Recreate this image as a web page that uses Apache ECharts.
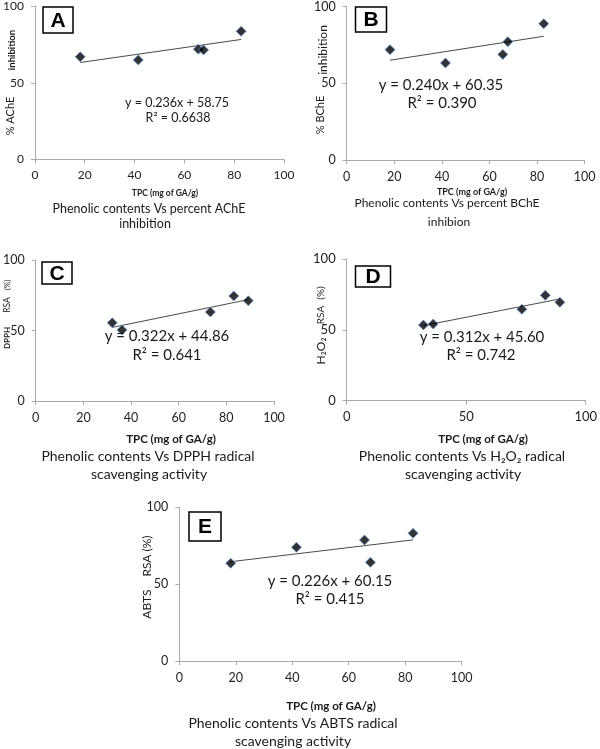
<!DOCTYPE html>
<html>
<head>
<meta charset="utf-8">
<script src="https://cdn.jsdelivr.net/npm/echarts@6/dist/echarts.min.js"></script>
<style>html,body{margin:0;padding:0;background:#fff}#c{width:600px;height:749px}</style>
</head>
<body>
<div id="c"></div>
<script>
// ---- data ----
var tpcA = [18.2, 41.5, 65.6, 67.7, 82.8];       // TPC (mg of GA/g), panels A, B, E
var tpcC = [32.1, 36.2, 73.3, 83.1, 89.2];       // TPC (mg of GA/g), panels C, D
var acheInhibition = [66.9, 64.9, 71.9, 71.4, 83.5];
var bcheInhibition = [71.9, 63.2, 68.8, 77.1, 88.8];
var dpphRSA = [55.5, 50.4, 63.1, 74.5, 71.1];
var h2o2RSA = [53.4, 54.1, 64.5, 74.4, 69.4];
var abtsRSA = [63.6, 74.0, 78.7, 64.2, 83.1];
// trendline end values (at first and last TPC)
var trendA = [63.2, 78.2];
var trendB = [65.0, 80.6];
var trendC = [52.2, 71.9];
var trendD = [53.0, 71.8];
var trendE = [64.6, 78.8];
var xTicksAB = [0, 20, 40, 60, 80, 100];
var xTicksD = [0, 50, 100];
var yTicks = [0, 50, 100];
var panelLetters = ['A', 'B', 'C', 'D', 'E'];
var equations = ['y = 0.236x + 58.75', 'y = 0.240x + 60.35', 'y = 0.322x + 44.86', 'y = 0.312x + 45.60', 'y = 0.226x + 60.15'];
var rSquared = ['R² = 0.6638', 'R² = 0.390', 'R² = 0.641', 'R² = 0.742', 'R² = 0.415'];
var xTitle = 'TPC (mg of GA/g)';

var FONT = 'Lato, "Open Sans", sans-serif';
var chart = echarts.init(document.getElementById('c'), null, {renderer: 'canvas'});

var panels = [
  {x: tpcA, y: acheInhibition, t: trendA, grid: {left: 32, top: 5, width: 252, height: 154.5}, xint: 20, lab: 12},
  {x: tpcA, y: bcheInhibition, t: trendB, grid: {left: 346.7, top: 6, width: 238, height: 154}, xint: 20, lab: 12.5},
  {x: tpcC, y: dpphRSA, t: trendC, grid: {left: 32.3, top: 260, width: 241.7, height: 141}, xint: 20, lab: 12.5},
  {x: tpcC, y: h2o2RSA, t: trendD, grid: {left: 346.7, top: 259, width: 242.7, height: 141.7}, xint: 50, lab: 13},
  {x: tpcA, y: abtsRSA, t: trendE, grid: {left: 179.3, top: 507.3, width: 282.3, height: 153.7}, xint: 20, lab: 12.5}
];

var axisLine = {show: true, lineStyle: {color: '#a9a9a9', width: 1}};
var grids = [], xAxes = [], yAxes = [], series = [];
panels.forEach(function (p, i) {
  grids.push(Object.assign({containLabel: false}, p.grid));
  xAxes.push({
    type: 'value', gridIndex: i, min: 0, max: 100, interval: p.xint,
    axisLine: axisLine, axisTick: {show: true, length: 4, lineStyle: {color: '#a9a9a9'}},
    splitLine: {show: false},
    axisLabel: {color: '#1e1e1e', fontSize: p.lab, fontFamily: FONT, margin: 10}
  });
  yAxes.push({
    type: 'value', gridIndex: i, min: 0, max: 100, interval: 50,
    axisLine: axisLine, axisTick: {show: true, length: 4, lineStyle: {color: '#a9a9a9'}},
    splitLine: {show: false},
    axisLabel: {color: '#1e1e1e', fontSize: p.lab, fontFamily: FONT, margin: 11}
  });
  var pts = p.x.map(function (v, k) { return [v, p.y[k]]; });
  var xs = p.x.slice().sort(function (a, b) { return a - b; });
  series.push({
    type: 'line', xAxisIndex: i, yAxisIndex: i, symbol: 'none', silent: true, z: 1,
    lineStyle: {color: '#4a4a4a', width: 1},
    data: [[xs[0], p.t[0]], [xs[xs.length - 1], p.t[1]]]
  });
  series.push({
    type: 'scatter', xAxisIndex: i, yAxisIndex: i, symbol: 'diamond', symbolSize: [10, 10], z: 3,
    itemStyle: {color: '#000', borderColor: '#5d95d9', borderWidth: 0.9},
    data: pts
  });
});

function txt(x, y, s, size, opt) {
  return {
    type: 'text', x: x, y: y, rotation: opt && opt.rot ? Math.PI / 2 : 0, z: 10,
    style: Object.assign({text: s, fill: '#1a1a1a', font: (opt && opt.bold ? 'bold ' : '') + size + 'px ' + FONT,
      textAlign: 'center', textVerticalAlign: 'middle', align: 'center', verticalAlign: 'middle'}, (opt && opt.style) || {})
  };
}
function box(x, y, w, h, letter, size) {
  return {
    type: 'group', x: x, y: y, z: 10, children: [
      {type: 'rect', shape: {x: 0, y: 0, width: w, height: h}, style: {fill: '#fff', stroke: '#000', lineWidth: 1.5}},
      {type: 'text', x: w / 2, y: h / 2 + 1, style: {text: letter, font: 'bold ' + size + 'px "Liberation Sans", Arial, sans-serif', fill: '#000', align: 'center', verticalAlign: 'middle'}}
    ]
  };
}

var graphics = [
  box(43, 7, 30, 26, panelLetters[0], 21),
  box(355.5, 7, 31, 25, panelLetters[1], 21),
  box(42, 262, 30, 22, panelLetters[2], 21),
  box(355.5, 266, 35, 21, panelLetters[3], 21),
  box(189, 512, 32, 29, panelLetters[4], 21),
  // equations
  txt(177, 103, equations[0], 12.5), txt(178, 118, rSquared[0], 12.5),
  txt(441, 85, equations[1], 15), txt(442, 103, rSquared[1], 15),
  txt(167, 336, equations[2], 15), txt(167, 355, rSquared[2], 15),
  txt(482, 337, equations[3], 15), txt(481, 355, rSquared[3], 15),
  txt(330, 581, equations[4], 15), txt(330, 599, rSquared[4], 15),
  // x titles
  txt(165, 193, xTitle, 8.5, {bold: true}),
  txt(472, 192, xTitle, 9, {bold: true}),
  txt(171, 439, xTitle, 11.5, {bold: true}),
  txt(483, 439, xTitle, 11.5, {bold: true}),
  txt(331, 706, xTitle, 11.5, {bold: true}),
  // captions
  txt(149, 209, 'Phenolic contents Vs percent AChE', 12.5), txt(145, 224, 'inhibition', 12.5),
  txt(447, 203, 'Phenolic contents Vs percent BChE', 12), txt(449, 222, 'inhibion', 12),
  txt(148, 456, 'Phenolic contents Vs DPPH radical', 14), txt(149, 474, 'scavenging activity', 14),
  txt(462, 456, 'Phenolic contents Vs H₂O₂ radical', 14), txt(463, 474, 'scavenging activity', 14),
  txt(293, 723, 'Phenolic contents Vs ABTS radical', 14), txt(293, 741, 'scavenging activity', 14),
  // y titles (rotated)
  txt(10, 116, '% AChE', 11, {rot: true}), txt(12, 50, 'inhibition', 9.5, {rot: true, bold: true}),
  txt(320, 115, '% BChE', 11, {rot: true}), txt(323, 50, 'inhibition', 12, {rot: true}),
  txt(7, 338, 'DPPH', 8, {rot: true, bold: true}), txt(7, 305, 'RSA', 8.5, {rot: true}), txt(7, 285, '(%)', 8, {rot: true}),
  txt(321, 351, 'H₂O₂', 12, {rot: true}), txt(321, 315, 'RSA', 10, {rot: true}), txt(321, 293, '(%)', 10, {rot: true}),
  txt(147, 604, 'ABTS', 12, {rot: true}), txt(147, 556, 'RSA (%)', 12, {rot: true})
];

chart.setOption({
  animation: false,
  backgroundColor: '#fff',
  textStyle: {fontFamily: FONT},
  grid: grids, xAxis: xAxes, yAxis: yAxes, series: series,
  graphic: graphics
});
</script>
</body>
</html>
